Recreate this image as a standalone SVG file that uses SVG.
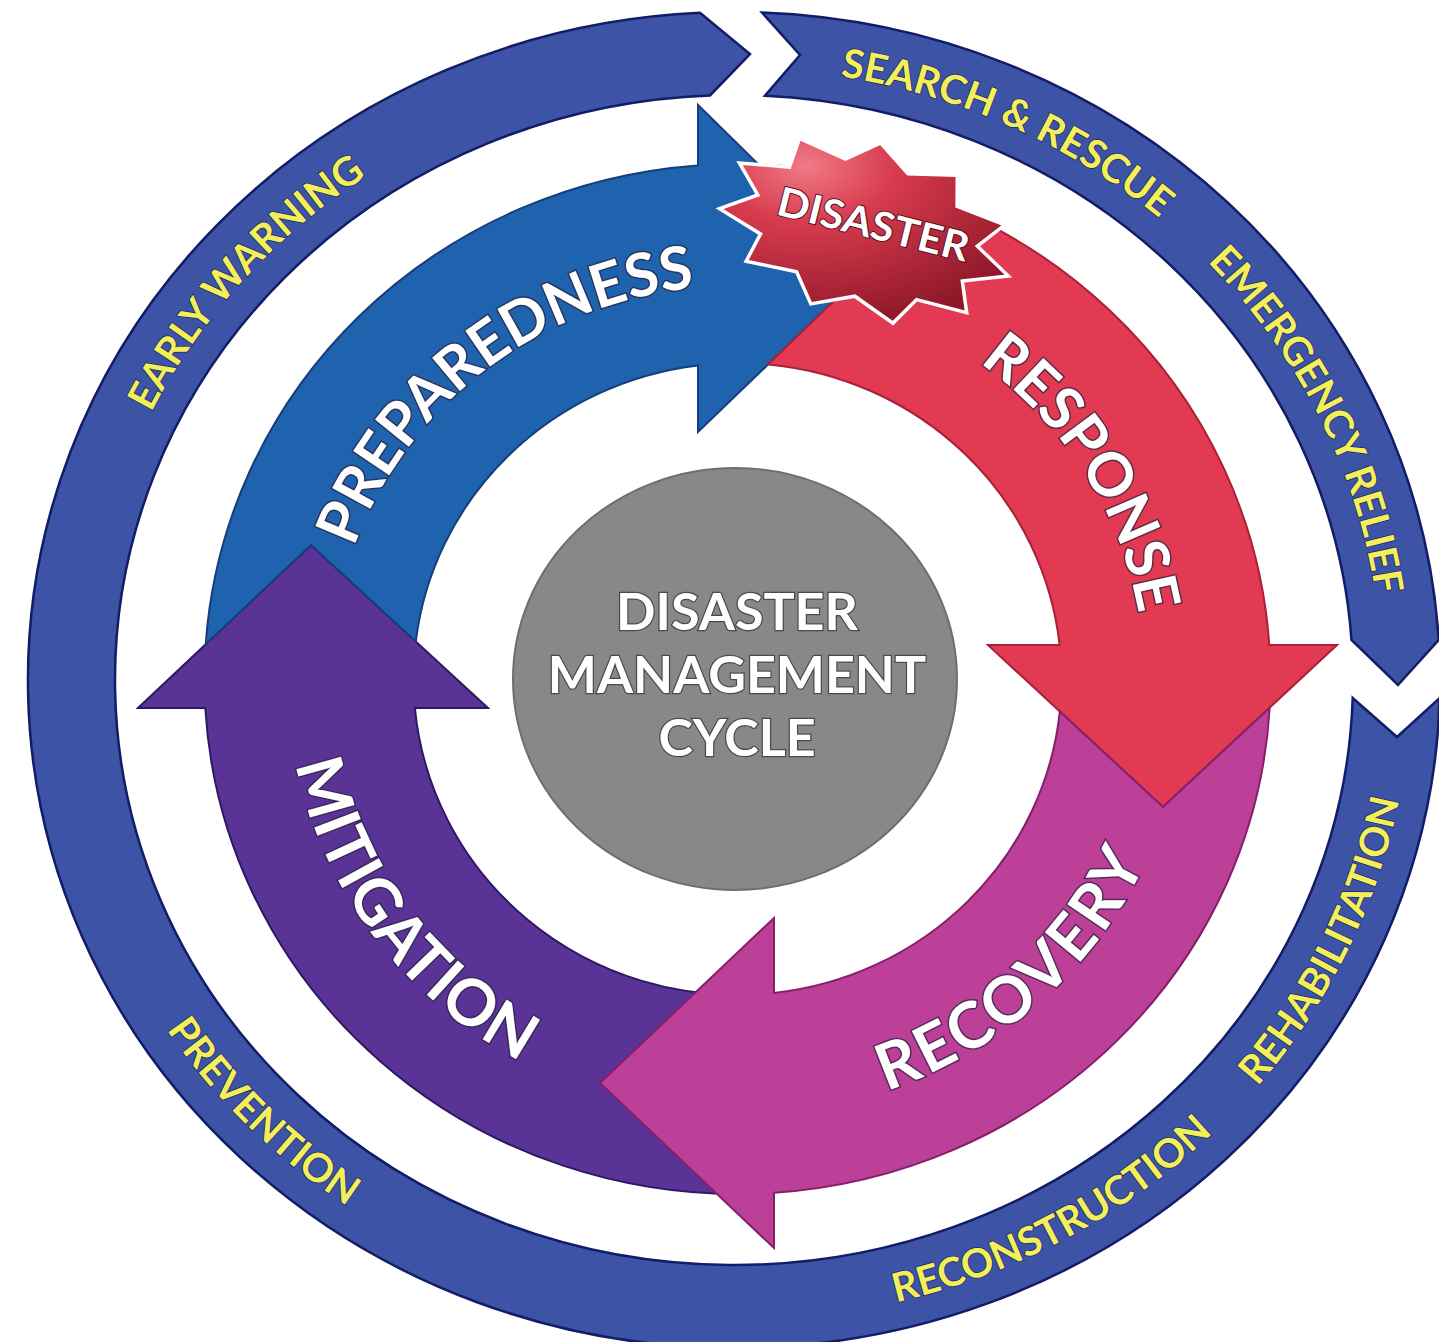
<svg xmlns="http://www.w3.org/2000/svg" width="1439" height="1342" viewBox="0 0 1439 1342">
<defs>
<style>
.ring{fill:#3c53a6;stroke:#131c66;stroke-width:2.5}
.ytxt{font-family:Lato,"Open Sans",sans-serif;font-weight:700;font-size:40px;fill:#f3ef5a;stroke:#1b2466;stroke-width:1.5;paint-order:stroke}
.wtxt{font-family:Lato,"Open Sans",sans-serif;font-weight:700;font-size:60px;fill:#ffffff;stroke:#2b2440;stroke-width:3;stroke-opacity:0.7;paint-order:stroke}
.big{font-size:64px}
.ctxt{font-family:Lato,"Open Sans",sans-serif;font-weight:700;font-size:52px;fill:#ffffff;stroke:#4a4a4a;stroke-width:2.5;paint-order:stroke;text-anchor:middle}
.prep{fill:#1f62ae;stroke:#163d7c;stroke-width:2}
.resp{fill:#e23a52;stroke:#a8203a;stroke-width:2}
.rec{fill:#bc3f98;stroke:#84206a;stroke-width:2}
.mit{fill:#5a3396;stroke:#2c1863;stroke-width:2}
</style>
<radialGradient id="starGrad" cx="0.3" cy="0.15" r="0.9">
<stop offset="0" stop-color="#f07a86"/>
<stop offset="0.35" stop-color="#d63a4d"/>
<stop offset="1" stop-color="#8c1727"/>
</radialGradient>
<path id="p-ew" d="M 108.1 521.6 A 648 612 0 0 1 460.2 125.3"/>
<path id="p-sr" d="M 793.9 70.6 A 648 612 0 0 1 1194.6 249.5"/>
<path id="p-er" d="M 1188.2 243.5 A 648 612 0 0 1 1379.0 621.3"/>
<path id="p-rh" d="M 1212.7 1133.3 A 677 641 0 0 0 1408.4 735.9"/>
<path id="p-rc" d="M 845.7 1312.2 A 677 641 0 0 0 1248.8 1096.3"/>
<path id="p-pv" d="M 115.6 940.7 A 677 641 0 0 0 437.2 1256.1"/>
<path id="p-prep" d="M 347.7 565.9 A 407 393.5 0 0 1 714.1 286.2"/>
<path id="p-resp" d="M 962.1 350.9 A 407 393.5 0 0 1 1141.9 634.5"/>
<path id="p-rec" d="M 870.9 1095.9 A 450 436.5 0 0 0 1152.5 847.8"/>
<path id="p-mit" d="M 293.0 747.3 A 450 436.5 0 0 0 536.0 1069.3"/>
</defs>
<rect width="1439" height="1342" fill="#ffffff"/>

<g id="outer-ring-main">
<path class="ring" d="M 1439.7 698 A 706 668 0 1 1 700 12.8 L 750 54 L 710 95.4 A 619 585 0 1 0 1352.7 698 L 1397 737 Z"/>
<text class="ytxt"><textPath href="#p-ew" startOffset="51%" text-anchor="middle">EARLY WARNING</textPath></text>
<text class="ytxt"><textPath href="#p-pv" startOffset="50%" text-anchor="middle">PREVENTION</textPath></text>
<text class="ytxt"><textPath href="#p-rc" startOffset="50%" text-anchor="middle">RECONSTRUCTION</textPath></text>
<text class="ytxt"><textPath href="#p-rh" startOffset="50%" text-anchor="middle">REHABILITATION</textPath></text>
</g>

<g id="outer-ring-response">
<path class="ring" d="M 762 12.5 A 706 668 0 0 1 1438.7 640 L 1398 685 L 1351.5 640 A 619 585 0 0 0 765 95.7 L 800 55 Z"/>
<text class="ytxt"><textPath href="#p-sr" startOffset="50%" text-anchor="middle">SEARCH &amp; RESCUE</textPath></text>
<text class="ytxt"><textPath href="#p-er" startOffset="50%" text-anchor="middle">EMERGENCY RELIEF</textPath></text>
</g>

<g id="mitigation">
<path class="mit" d="M 760 1193.5 A 533 515 0 0 1 205.3 708 L 138 708 L 311 545 L 488 708 L 414.9 708 A 324 316 0 0 0 760 994.2 Z"/>
<text class="wtxt big"><textPath href="#p-mit" startOffset="50%" text-anchor="middle" textLength="385" lengthAdjust="spacing">MITIGATION</textPath></text>
</g>

<g id="preparedness">
<path class="prep" d="M 205.7 644.2 L 311 545 L 415.8 641.5 A 324 316 0 0 1 698 365.4 L 698 432 L 866 270 L 698 105 L 698 165.4 A 533 515 0 0 0 205.7 644.2 Z"/>
<text class="wtxt"><textPath href="#p-prep" startOffset="50%" text-anchor="middle">PREPAREDNESS</textPath></text>
</g>

<g id="response">
<path class="resp" d="M 758.5 164.4 A 533 515 0 0 1 1269.3 645 L 1337 645 L 1163 807 L 988 645 L 1059.6 645 A 324 316 0 0 0 768.1 364.4 L 866 270 Z"/>
<text class="wtxt"><textPath href="#p-resp" startOffset="50%" text-anchor="middle">RESPONSE</textPath></text>
</g>

<g id="recovery">
<path class="rec" d="M 1269.7 707.7 A 533 515 0 0 1 774 1192.8 L 774 1248 L 600 1083 L 774 918 L 774 993 A 324 316 0 0 0 1059.8 711.5 L 1163 807 Z"/>
<text class="wtxt big"><textPath href="#p-rec" startOffset="50%" text-anchor="middle" textLength="355" lengthAdjust="spacing">RECOVERY</textPath></text>
</g>

<g id="disaster">
<polygon fill="url(#starGrad)" stroke="#ffffff" stroke-width="3.5" stroke-linejoin="miter" points="1008.4,276.1 962.3,281.0 966.7,312.7 916.6,299.6 893.0,323.1 854.8,296.2 810.8,303.9 796.6,271.7 746.1,261.3 760.5,234.0 719.5,208.7 757.8,195.0 739.4,162.9 789.5,167.1 799.5,138.4 845.5,159.2 880.7,143.0 908.0,173.8 957.3,175.2 957.1,206.2 1004.8,224.8 977.4,246.2"/>
<text x="870" y="238" transform="rotate(14 870 238)" text-anchor="middle" textLength="196" lengthAdjust="spacingAndGlyphs" style="font-family:Lato,'Open Sans',sans-serif;font-weight:700;font-size:40px;fill:#ffffff;stroke:#5a1020;stroke-width:2;paint-order:stroke">DISASTER</text>
</g>

<g id="center">
<ellipse cx="735" cy="679" rx="222" ry="211" fill="#888888" stroke="#6e6e6e" stroke-width="2"/>
<text class="ctxt" x="737" y="630">DISASTER</text>
<text class="ctxt" x="737" y="693">MANAGEMENT</text>
<text class="ctxt" x="737" y="756">CYCLE</text>
</g>
</svg>
